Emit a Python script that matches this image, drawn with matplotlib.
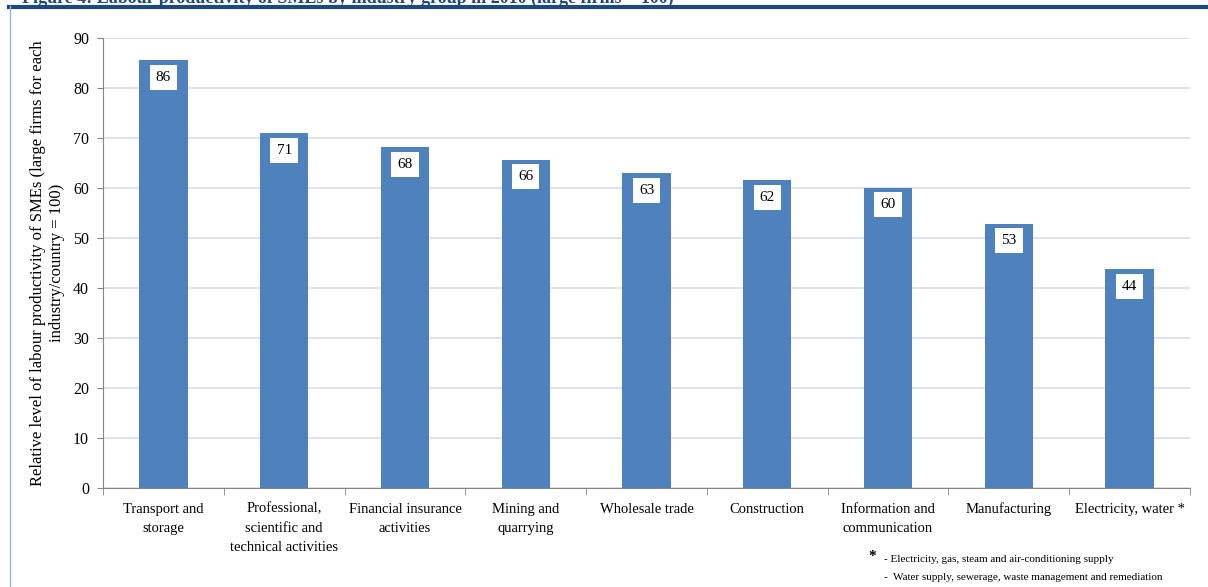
import matplotlib.pyplot as plt
from matplotlib.lines import Line2D
import numpy as np

# industry groups and SME relative productivity (large firms = 100)
categories = ["Transport and\nstorage",
              "Professional,\nscientific and\ntechnical activities",
              "Financial insurance\nactivities",
              "Mining and\nquarrying",
              "Wholesale trade",
              "Construction",
              "Information and\ncommunication",
              "Manufacturing",
              "Electricity, water *"]
values = [85.6, 71.0, 68.2, 65.7, 63.0, 61.6, 60.1, 52.9, 43.8]
labels = ["86", "71", "68", "66", "63", "62", "60", "53", "44"]
yticks = [0, 10, 20, 30, 40, 50, 60, 70, 80, 90]

plt.rcParams['font.family'] = ['Liberation Serif', 'DejaVu Serif']

fig = plt.figure(figsize=(12.08, 5.87), dpi=100)
ax = fig.add_axes([103 / 1208, 1 - 488 / 587, (1190 - 103) / 1208, 450 / 587])

x = np.arange(len(categories))
bars = ax.bar(x, values, width=0.4, color='#4f81bd', zorder=3)

for rect, lab in zip(bars, labels):
    ax.annotate(lab, (rect.get_x() + rect.get_width() / 2, rect.get_height()),
                xytext=(0, -12.5), textcoords='offset points',
                ha='center', va='center', fontsize=11, zorder=4,
                bbox=dict(boxstyle='square,pad=0.4', fc='white', ec='none'))

ax.set_xlim(-0.5, len(categories) - 0.5)
ax.set_ylim(0, 90)
ax.set_yticks(yticks)
ax.tick_params(axis='y', labelsize=11.5, length=4, color='#868686', pad=6)
ax.set_xticks(x)
ax.set_xticklabels(categories, fontsize=10.5, linespacing=1.6)
ax.tick_params(axis='x', length=0, pad=10.5)
ax.set_xticks(np.arange(len(categories) + 1) - 0.5, minor=True)
ax.tick_params(axis='x', which='minor', length=5, color='#868686')
ax.grid(axis='y', color='#d9dcef', linewidth=1.2, zorder=0)

for side in ['top', 'right']:
    ax.spines[side].set_visible(False)
for side in ['left', 'bottom']:
    ax.spines[side].set_color('#868686')

ax.set_ylabel("Relative level of labour productivity of SMEs (large firms for each\nindustry/country = 100)",
              fontsize=12, labelpad=6, linespacing=1.2)

# page decorations: header rule and left frame line
fig.add_artist(Line2D([9 / 1208, 1], [1 - 6.5 / 587, 1 - 6.5 / 587],
                      transform=fig.transFigure, color='#1f497d', linewidth=3))
fig.add_artist(Line2D([9.5 / 1208, 9.5 / 1208], [0, 1 - 6 / 587],
                      transform=fig.transFigure, color='#95b3d7', linewidth=1))
fig.text(22 / 1208, 1 + 2 / 587, "Figure 4: Labour productivity of SMEs by industry group in 2010 (large firms = 100)",
         fontsize=13, fontweight='bold', color='#1f497d', va='center')

# footnote
fig.text(868 / 1208, 1 - 556 / 587, "*", fontsize=11, fontweight='bold', va='center')
fig.text(884 / 1208, 1 - 559 / 587, "- Electricity, gas, steam and air-conditioning supply",
         fontsize=8, va='center')
fig.text(884 / 1208, 1 - 577 / 587, "-  Water supply, sewerage, waste management and remediation",
         fontsize=8, va='center')

fig.savefig("out.png", dpi=100)
